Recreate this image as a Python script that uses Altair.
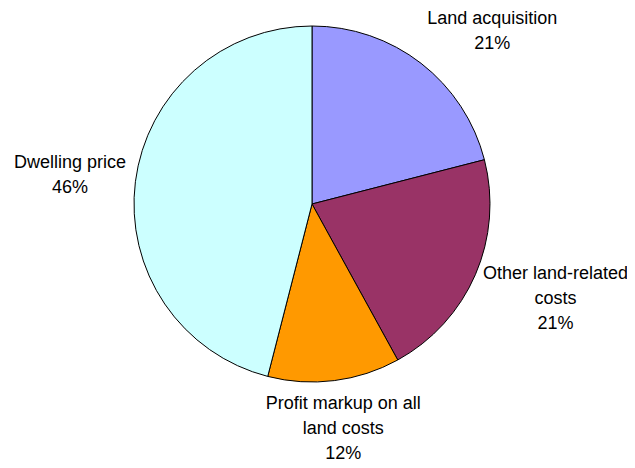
import altair as alt
import pandas as pd

categories = ["Land acquisition", "Other land-related costs", "Profit markup on all land costs", "Dwelling price"]
label_lines = ["Land acquisition", "Other land-related\ncosts", "Profit markup on all\nland costs", "Dwelling price"]
values = [21, 21, 12, 46]
order = [0, 1, 2, 3]
colors = ["#9999FF", "#993366", "#FF9900", "#CCFFFF"]

df = pd.DataFrame({
    "category": categories,
    "value": values,
    "order": order,
    "label": [f"{l}\n{v}%" for l, v in zip(label_lines, values)],
})

cx, cy = 304, 196
total = sum(values)

pie = alt.Chart(df).mark_arc(outerRadius=178, stroke="black", strokeWidth=1).encode(
    theta=alt.Theta("value:Q", stack=True, scale=alt.Scale(domain=[0, total])),
    order=alt.Order("order:Q"),
    x=alt.value(cx),
    y=alt.value(cy),
    color=alt.Color("category:N", scale=alt.Scale(domain=categories, range=colors), legend=None),
)

label_base = alt.Chart(df).transform_window(
    cum="sum(value)", sort=[alt.SortField("order")]
).transform_calculate(
    mid="datum.cum - datum.value / 2"
)

def label_layer(cat, radius, dx=0, dy=0):
    return label_base.transform_filter(alt.datum.category == cat).mark_text(
        radius=radius, dx=dx, dy=dy, font="Liberation Sans", fontSize=18,
        lineBreak="\n", lineHeight=25, align="center", baseline="middle", color="black"
    ).encode(
        theta=alt.Theta("mid:Q", stack=None, scale=alt.Scale(domain=[0, total])),
        x=alt.value(cx),
        y=alt.value(cy),
        text="label:N",
    )

labels = (
    label_layer(categories[0], 250, 27, 13)
    + label_layer(categories[1], 261, 4, -34)
    + label_layer(categories[2], 226, 3, -24)
    + label_layer(categories[3], 244, 0, -10)
)

chart = alt.layer(pie, labels).properties(
    width=619, height=460, padding=0, background="white",
    autosize=alt.AutoSizeParams(type="none"),
).configure_view(stroke=None)

chart.save("out.html", embed_options={"renderer": "svg", "actions": False})
